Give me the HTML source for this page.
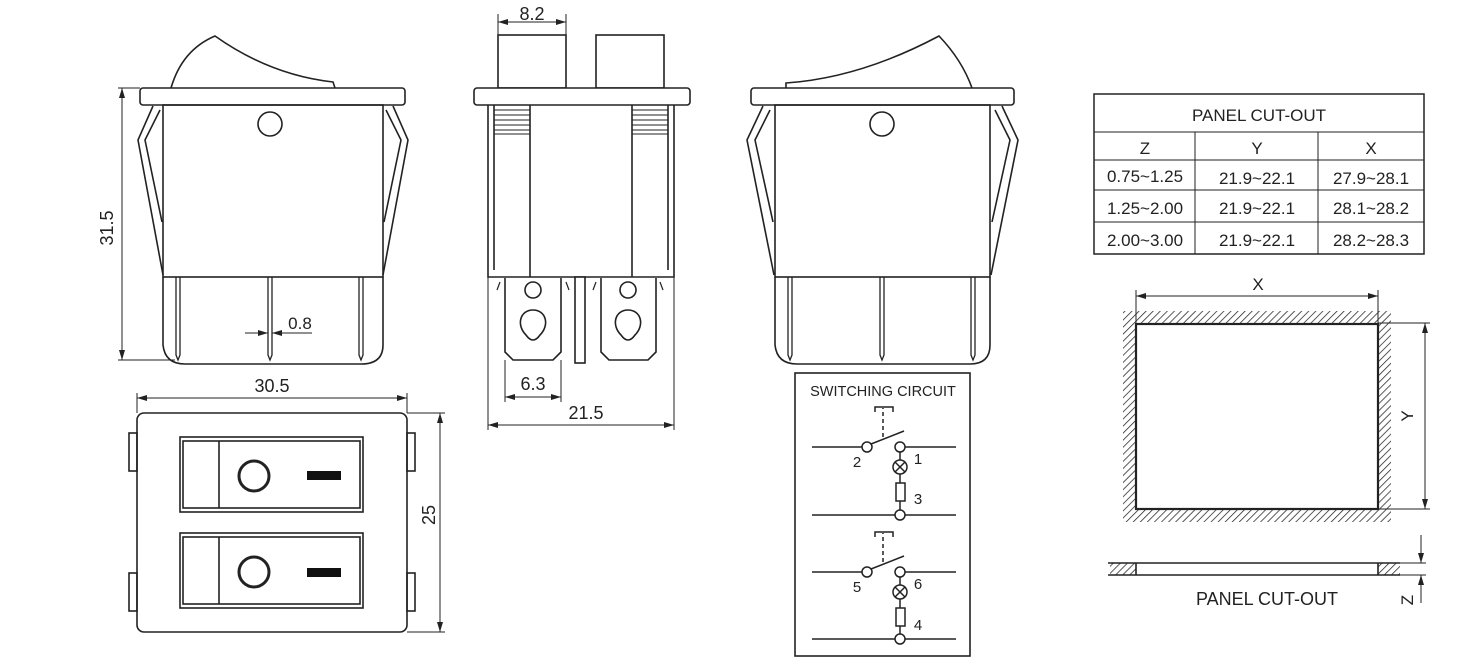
<!DOCTYPE html>
<html><head><meta charset="utf-8"><style>
html,body{margin:0;padding:0;background:#fff;}
svg{display:block;}
text{font-family:"Liberation Sans",Arial,sans-serif;fill:#222;}
</style></head><body>
<svg width="1470" height="669" viewBox="0 0 1470 669" xmlns="http://www.w3.org/2000/svg">
<defs>
<marker id="a" viewBox="0 0 10 6" refX="10" refY="3" markerWidth="10" markerHeight="6" orient="auto-start-reverse" markerUnits="userSpaceOnUse"><path d="M0,0 L10,3 L0,6 z" fill="#222"/></marker>
<pattern id="h" width="5" height="5" patternUnits="userSpaceOnUse" patternTransform="rotate(45)"><line x1="0" y1="0" x2="0" y2="5" stroke="#222" stroke-width="1.5"/></pattern>
</defs>
<g fill="none" stroke="#222" stroke-width="1.6">
<!-- LEFT VIEW -->
<path d="M171,88 Q182,50 215,36 Q270,75 333,82 L335,88"/>
<rect x="140" y="88" width="265" height="17" rx="3" fill="#fff"/>
<rect x="163" y="105" width="220" height="172"/>
<circle cx="270" cy="124" r="12"/>
<path d="M153,106 L138,140 L163,275"/><path d="M160,110 L145,140 L162,222"/>
<path d="M393,106 L408,140 L383,275"/><path d="M386,110 L401,140 L384,222"/>
<path d="M163,277 L163,345 Q165,364 185,364 L361,364 Q383,364 383,345 L383,277"/>
<path d="M176,277 V355 L178,360 L180,355 V277 M268,277 V355 L270,360 L272,355 V277 M359,277 V355 L361,360 L363,355 V277" stroke-width="1.3"/>
<g stroke-width="1"><line x1="118" y1="88" x2="140" y2="88"/><line x1="118" y1="360" x2="175" y2="360"/>
<line x1="122" y1="88" x2="122" y2="360" marker-start="url(#a)" marker-end="url(#a)"/>
<line x1="245" y1="333" x2="268" y2="333" marker-end="url(#a)"/><line x1="295" y1="333" x2="272" y2="333" marker-end="url(#a)"/><line x1="272" y1="333" x2="312" y2="333"/></g>
<!-- MIDDLE VIEW -->
<rect x="498" y="35" width="68" height="53"/><rect x="596" y="35" width="68" height="53"/>
<rect x="474" y="88" width="216" height="17" rx="3" fill="#fff"/>
<path d="M488,105 V277 H674 V105 M494,105 V270 M668,105 V270 M530,105 V277 M632,105 V277"/>
<path d="M494,110 H530 M494,115 H530 M494,120 H530 M494,125 H530 M494,130 H530 M632,110 H668 M632,115 H668 M632,120 H668 M632,125 H668 M632,130 H668 M494,134 H530 M632,134 H668" stroke-width="1"/>
<path d="M505,278 V352 L513,360 H553 L561,352 V278 M601,278 V352 L609,360 H648 L656,352 V278"/>
<rect x="575" y="277" width="10" height="86" fill="#fff"/>
<path d="M500,282 L497,290 M566,282 L569,290 M596,282 L593,290 M660,282 L663,290" stroke-width="1.2"/>
<circle cx="533" cy="290" r="8"/><circle cx="628" cy="290" r="8"/>
<path d="M533,310 C520,310 516,325 526,335 Q533,345 540,335 C550,325 546,310 533,310 z"/>
<path d="M628,310 C615,310 611,325 621,335 Q628,345 635,335 C645,325 641,310 628,310 z"/>
<g stroke-width="1"><line x1="498" y1="14" x2="498" y2="35"/><line x1="566" y1="14" x2="566" y2="35"/>
<line x1="498" y1="22" x2="566" y2="22" marker-start="url(#a)" marker-end="url(#a)"/>
<line x1="505" y1="360" x2="505" y2="402"/><line x1="561" y1="360" x2="561" y2="402"/>
<line x1="505" y1="397" x2="561" y2="397" marker-start="url(#a)" marker-end="url(#a)"/>
<line x1="488" y1="277" x2="488" y2="430"/><line x1="674" y1="277" x2="674" y2="430"/>
<line x1="488" y1="425" x2="674" y2="425" marker-start="url(#a)" marker-end="url(#a)"/></g>
<!-- RIGHT VIEW -->
<path d="M786,88 L786,83 Q860,78 939,36 Q962,60 972,88"/>
<rect x="751" y="88" width="263" height="17" rx="3" fill="#fff"/>
<rect x="775" y="105" width="215" height="172"/>
<circle cx="882" cy="124" r="12"/>
<path d="M763,106 L747,140 L774,275"/><path d="M770,110 L755,140 L773,222"/>
<path d="M1002,106 L1018,140 L991,275"/><path d="M995,110 L1010,140 L992,222"/>
<path d="M775,277 L775,345 Q777,364 797,364 L970,364 Q990,364 990,345 L990,277"/>
<path d="M788,277 V355 L790,360 L792,355 V277 M880,277 V355 L882,360 L884,355 V277 M971,277 V355 L973,360 L975,355 V277" stroke-width="1.3"/>
<!-- BOTTOM-LEFT VIEW -->
<rect x="137" y="413" width="270" height="219" rx="7"/>
<rect x="129" y="433" width="8" height="38"/><rect x="129" y="573" width="8" height="38"/>
<rect x="407" y="433" width="8" height="38"/><rect x="407" y="573" width="8" height="38"/>
<rect x="180" y="437" width="183" height="75"/><rect x="183" y="441" width="177" height="67"/><line x1="219" y1="441" x2="219" y2="508"/>
<rect x="180" y="533" width="183" height="75"/><rect x="183" y="537" width="177" height="67"/><line x1="219" y1="537" x2="219" y2="604"/>
<circle cx="254" cy="476" r="15" stroke-width="3"/><circle cx="254" cy="572" r="15" stroke-width="3"/>
<rect x="307" y="471" width="34" height="9" fill="#111" stroke="none"/><rect x="307" y="568" width="34" height="9" fill="#111" stroke="none"/>
<g stroke-width="1"><line x1="137" y1="393" x2="137" y2="413"/><line x1="407" y1="393" x2="407" y2="413"/>
<line x1="137" y1="398" x2="407" y2="398" marker-start="url(#a)" marker-end="url(#a)"/>
<line x1="407" y1="413" x2="445" y2="413"/><line x1="407" y1="632" x2="445" y2="632"/>
<line x1="440" y1="413" x2="440" y2="632" marker-start="url(#a)" marker-end="url(#a)"/></g>
<!-- SWITCHING CIRCUIT -->
<rect x="795" y="373" width="175" height="283"/>
<g stroke-width="1.5">
<line x1="812" y1="447" x2="862" y2="447"/><line x1="905" y1="447" x2="956" y2="447"/>
<circle cx="867" cy="447" r="5"/><circle cx="900" cy="447" r="5"/>
<line x1="871" y1="444" x2="904" y2="431"/>
<line x1="883" y1="437" x2="883" y2="408" stroke-dasharray="4,3"/>
<path d="M875,412 V407 H893 V412"/>
<line x1="900" y1="452" x2="900" y2="460"/><circle cx="900" cy="467" r="7"/><path d="M895,462 L905,472 M905,462 L895,472"/>
<line x1="900" y1="474" x2="900" y2="483"/><rect x="896" y="483" width="9" height="18"/><line x1="900" y1="501" x2="900" y2="510"/>
<line x1="812" y1="515" x2="895" y2="515"/><line x1="905" y1="515" x2="956" y2="515"/><circle cx="900" cy="515" r="5"/>
<line x1="812" y1="572" x2="862" y2="572"/><line x1="905" y1="572" x2="956" y2="572"/>
<circle cx="867" cy="572" r="5"/><circle cx="900" cy="572" r="5"/>
<line x1="871" y1="569" x2="904" y2="556"/>
<line x1="883" y1="562" x2="883" y2="533" stroke-dasharray="4,3"/>
<path d="M875,537 V532 H893 V537"/>
<line x1="900" y1="577" x2="900" y2="585"/><circle cx="900" cy="592" r="7"/><path d="M895,587 L905,597 M905,587 L895,597"/>
<line x1="900" y1="599" x2="900" y2="608"/><rect x="896" y="608" width="9" height="18"/><line x1="900" y1="626" x2="900" y2="634"/>
<line x1="812" y1="639" x2="895" y2="639"/><line x1="905" y1="639" x2="956" y2="639"/><circle cx="900" cy="639" r="5"/>
</g>
<!-- TABLE -->
<rect x="1094" y="94" width="330" height="160" stroke-width="1.5"/>
<g stroke-width="1"><line x1="1094" y1="132" x2="1424" y2="132"/><line x1="1094" y1="160" x2="1424" y2="160"/>
<line x1="1094" y1="190" x2="1424" y2="190"/><line x1="1094" y1="222" x2="1424" y2="222"/>
<line x1="1195" y1="132" x2="1195" y2="254"/><line x1="1318" y1="132" x2="1318" y2="254"/></g>
<!-- PANEL CUTOUT -->
<rect x="1123" y="311" width="268" height="211" fill="url(#h)" stroke="none"/>
<rect x="1136" y="324" width="242" height="185" fill="#fff" stroke-width="2.2"/>
<g stroke-width="1"><line x1="1136" y1="290" x2="1136" y2="324"/><line x1="1378" y1="290" x2="1378" y2="324"/>
<line x1="1136" y1="296" x2="1378" y2="296" marker-start="url(#a)" marker-end="url(#a)"/>
<line x1="1378" y1="323" x2="1430" y2="323"/><line x1="1378" y1="509" x2="1430" y2="509"/>
<line x1="1425" y1="323" x2="1425" y2="509" marker-start="url(#a)" marker-end="url(#a)"/></g>
<rect x="1110" y="563" width="26" height="12" fill="url(#h)" stroke="none"/><rect x="1378" y="563" width="22" height="12" fill="url(#h)" stroke="none"/>
<line x1="1108" y1="563" x2="1400" y2="563"/><line x1="1108" y1="575" x2="1400" y2="575"/>
<line x1="1136" y1="563" x2="1136" y2="575"/><line x1="1378" y1="563" x2="1378" y2="575"/>
<g stroke-width="1"><line x1="1400" y1="563" x2="1426" y2="563"/><line x1="1400" y1="575" x2="1426" y2="575"/>
<line x1="1421" y1="535" x2="1421" y2="563" marker-end="url(#a)"/><line x1="1421" y1="603" x2="1421" y2="575" marker-end="url(#a)"/></g>
</g>
<g font-size="18">
<text x="113" y="228" text-anchor="middle" transform="rotate(-90 113 228)">31.5</text>
<text x="300" y="329" text-anchor="middle" font-size="17">0.8</text>
<text x="532" y="20" text-anchor="middle">8.2</text>
<text x="533" y="390" text-anchor="middle">6.3</text>
<text x="586" y="419" text-anchor="middle">21.5</text>
<text x="272" y="392" text-anchor="middle">30.5</text>
<text x="435" y="515" text-anchor="middle" transform="rotate(-90 435 515)">25</text>
<text x="883" y="396" text-anchor="middle" font-size="14.5">SWITCHING CIRCUIT</text>
<text x="857" y="467" text-anchor="middle" font-size="15">2</text><text x="918" y="464" text-anchor="middle" font-size="15">1</text><text x="918" y="504" text-anchor="middle" font-size="15">3</text>
<text x="857" y="592" text-anchor="middle" font-size="15">5</text><text x="918" y="589" text-anchor="middle" font-size="15">6</text><text x="918" y="630" text-anchor="middle" font-size="15">4</text>
<text x="1259" y="121" text-anchor="middle" font-size="17">PANEL CUT-OUT</text>
<text x="1145" y="154" text-anchor="middle" font-size="17">Z</text><text x="1257" y="154" text-anchor="middle" font-size="17">Y</text><text x="1371" y="154" text-anchor="middle" font-size="17">X</text>
<text x="1145" y="182" text-anchor="middle" font-size="17">0.75~1.25</text><text x="1257" y="184" text-anchor="middle" font-size="17">21.9~22.1</text><text x="1371" y="184" text-anchor="middle" font-size="17">27.9~28.1</text>
<text x="1145" y="214" text-anchor="middle" font-size="17">1.25~2.00</text><text x="1257" y="214" text-anchor="middle" font-size="17">21.9~22.1</text><text x="1371" y="214" text-anchor="middle" font-size="17">28.1~28.2</text>
<text x="1145" y="246" text-anchor="middle" font-size="17">2.00~3.00</text><text x="1257" y="246" text-anchor="middle" font-size="17">21.9~22.1</text><text x="1371" y="246" text-anchor="middle" font-size="17">28.2~28.3</text>
<text x="1258" y="290" text-anchor="middle" font-size="17">X</text>
<text x="1413" y="416" text-anchor="middle" font-size="17" transform="rotate(-90 1413 416)">Y</text>
<text x="1267" y="605" text-anchor="middle" font-size="18">PANEL CUT-OUT</text>
<text x="1413" y="600" text-anchor="middle" font-size="17" transform="rotate(-90 1413 600)">Z</text>
</g>
</svg>
</body></html>
